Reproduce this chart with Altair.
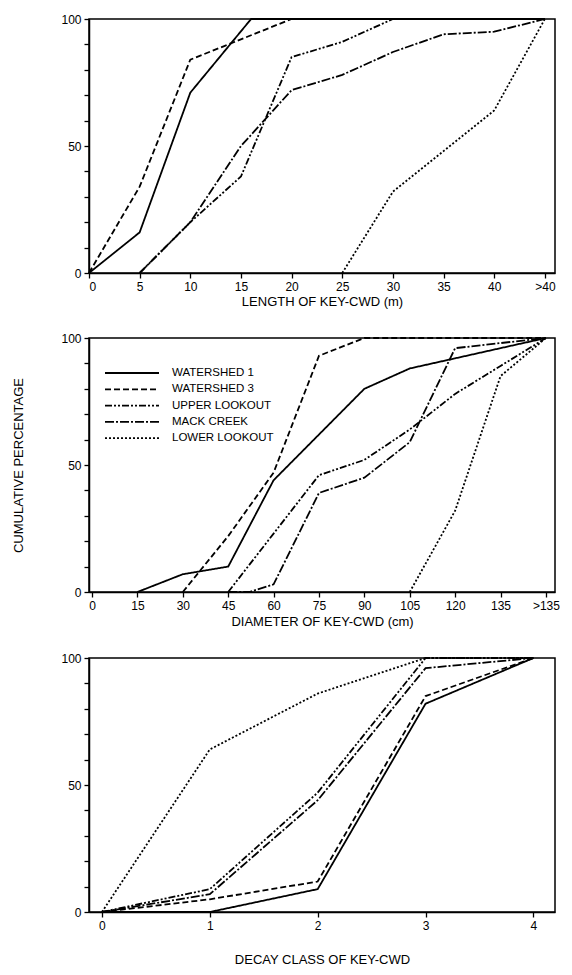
import altair as alt
import pandas as pd

SERIES = ["WATERSHED 1", "WATERSHED 3", "UPPER LOOKOUT", "MACK CREEK", "LOWER LOOKOUT"]
DASHES = [[1, 0], [6, 3], [7, 2, 2, 2, 2, 2], [9, 2, 2, 2], [2, 2]]

# Panel 1: length of key-CWD (m); 45 stands for ">40"
len_ticks = [0, 5, 10, 15, 20, 25, 30, 35, 40, 45]
len_ws1_x = [0, 5, 10, 16, 45]
len_ws1_y = [0, 16, 71, 100, 100]
len_ws3_x = [0, 5, 10, 20, 45]
len_ws3_y = [0, 34, 84, 100, 100]
len_up_x = [5, 10, 15, 20, 25, 30, 45]
len_up_y = [0, 20, 38, 85, 91, 100, 100]
len_mack_x = [5, 10, 15, 20, 25, 30, 35, 40, 45]
len_mack_y = [0, 20, 50, 72, 78, 87, 94, 95, 100]
len_low_x = [25, 30, 35, 40, 45]
len_low_y = [0, 32, 48, 64, 100]

# Panel 2: diameter of key-CWD (cm); 150 stands for ">135"
dia_ticks = [0, 15, 30, 45, 60, 75, 90, 105, 120, 135, 150]
dia_ws1_x = [15, 30, 45, 60, 90, 105, 120, 150]
dia_ws1_y = [0, 7, 10, 44, 80, 88, 92, 100]
dia_ws3_x = [30, 45, 60, 75, 90, 150]
dia_ws3_y = [0, 22, 47, 93, 100, 100]
dia_up_x = [45, 60, 75, 90, 105, 120, 135, 150]
dia_up_y = [0, 23, 46, 52, 64, 78, 89, 100]
dia_mack_x = [45, 52, 60, 75, 90, 105, 120, 150]
dia_mack_y = [0, 0, 3, 39, 45, 59, 96, 100]
dia_low_x = [105, 120, 135, 150]
dia_low_y = [0, 32, 85, 100]

# Panel 3: decay class of key-CWD
dec_ticks = [0, 1, 2, 3, 4]
dec_x = [0, 1, 2, 3, 4]
dec_ws1_y = [0, 0, 9, 82, 100]
dec_ws3_y = [0, 5, 12, 85, 100]
dec_up_y = [0, 9, 47, 100, 100]
dec_mack_y = [0, 7, 44, 96, 100]
dec_low_y = [0, 64, 86, 100, 100]

y_ticks = list(range(0, 101, 10))


def frame(pairs):
    rows = []
    for name, xs, ys in pairs:
        for xv, yv in zip(xs, ys):
            rows.append({"series": name, "x": xv, "y": yv})
    return pd.DataFrame(rows)


len_df = frame([
    (SERIES[0], len_ws1_x, len_ws1_y),
    (SERIES[1], len_ws3_x, len_ws3_y),
    (SERIES[2], len_up_x, len_up_y),
    (SERIES[3], len_mack_x, len_mack_y),
    (SERIES[4], len_low_x, len_low_y),
])
dia_df = frame([
    (SERIES[0], dia_ws1_x, dia_ws1_y),
    (SERIES[1], dia_ws3_x, dia_ws3_y),
    (SERIES[2], dia_up_x, dia_up_y),
    (SERIES[3], dia_mack_x, dia_mack_y),
    (SERIES[4], dia_low_x, dia_low_y),
])
dec_df = frame([
    (SERIES[0], dec_x, dec_ws1_y),
    (SERIES[1], dec_x, dec_ws3_y),
    (SERIES[2], dec_x, dec_up_y),
    (SERIES[3], dec_x, dec_mack_y),
    (SERIES[4], dec_x, dec_low_y),
])

W, H = 466, 254
FONT = "Liberation Sans"


def y_enc(title):
    ax = alt.Axis(values=y_ticks, labelExpr="datum.value % 50 == 0 ? datum.label : ''",
                  tickSize=5, labelPadding=3, labelFontSize=12, titleFontSize=13,
                  titlePadding=35, titleFontWeight="normal")
    if title:
        return alt.Y("y:Q", scale=alt.Scale(domain=[0, 100], nice=False), axis=ax, title=title)
    return alt.Y("y:Q", scale=alt.Scale(domain=[0, 100], nice=False), axis=ax, title=None)


def panel(df, domain, ticks, label_expr, xtitle, ytitle, legend, title_pad):
    dash = alt.StrokeDash(
        "series:N",
        scale=alt.Scale(domain=SERIES, range=DASHES),
        legend=legend,
    )
    return alt.Chart(df).mark_line(color="black", strokeWidth=1.8).encode(
        x=alt.X("x:Q", scale=alt.Scale(domain=domain, nice=False, zero=False),
                axis=alt.Axis(values=ticks, labelExpr=label_expr, tickSize=5,
                              labelPadding=3, labelFontSize=12, titleFontSize=13,
                              titlePadding=title_pad, titleFontWeight="normal"),
                title=xtitle),
        y=y_enc(ytitle),
        strokeDash=dash,
    ).properties(width=W, height=H)


legend = alt.Legend(
    title=None, orient="none", legendX=33, legendY=25, symbolType="M-3,0H3",
    symbolSize=324, symbolStrokeWidth=1.8, symbolStrokeColor="black",
    symbolFillColor="transparent",
    labelFontSize=11.5, labelFont=FONT, rowPadding=0.3, labelOffset=30,
)

p1 = panel(len_df, [0, 46], len_ticks,
           "datum.value == 45 ? '>40' : datum.label",
           "LENGTH OF KEY-CWD (m)", None, None, 3)
p2 = panel(dia_df, [-1, 153], dia_ticks,
           "datum.value == 150 ? '>135' : datum.label",
           "DIAMETER OF KEY-CWD (cm)", "CUMULATIVE PERCENTAGE", legend, 4)
p3 = panel(dec_df, [-0.12, 4.2], dec_ticks, "datum.label",
           "DECAY CLASS OF KEY-CWD", None, None, 22)

chart = alt.vconcat(p1, p2, p3, spacing=22).resolve_scale(
    x="independent", y="independent", strokeDash="independent"
).resolve_legend(strokeDash="independent").properties(
    padding={"top": 12, "left": 12, "right": 4, "bottom": 4}
).configure(
    font=FONT,
).configure_view(
    stroke="black", strokeWidth=1.5
).configure_axis(
    domainColor="black", tickColor="black", labelColor="black", titleColor="black",
    grid=False, domainWidth=1.5, tickWidth=1.3, labelFont=FONT, titleFont=FONT,
).configure_legend(
    labelColor="black"
)

chart.save("out.html", embed_options={"renderer": "svg", "actions": False})
